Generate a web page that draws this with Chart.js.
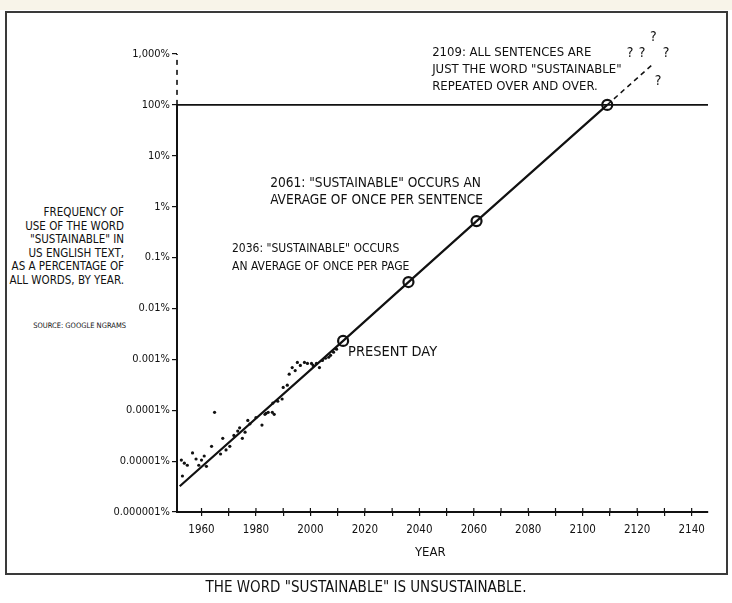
<!DOCTYPE html>
<html><head><meta charset="utf-8">
<script src="https://cdn.jsdelivr.net/npm/chart.js@4.4.1/dist/chart.umd.min.js"></script>
<style>
html,body{margin:0;padding:0;background:#fff;}
body{width:732px;height:603px;position:relative;overflow:hidden;font-family:'DejaVu Sans Condensed','DejaVu Sans',sans-serif;color:#111;}
#band{position:absolute;left:0;top:0;width:732px;height:10px;background:#f8f4e9;}
#frame{position:absolute;left:5px;top:11px;width:719px;height:560px;border:2px solid #3a3a3a;background:#fff;}
#wrap{position:absolute;left:0;top:0;width:732px;height:603px;}
#caption{position:absolute;left:0;width:732px;top:579px;text-align:center;font-size:15px;line-height:17px;}
#desc{position:absolute;right:608px;top:206px;text-align:right;font-size:11.5px;line-height:13.6px;white-space:nowrap;}
#source{position:absolute;right:606px;top:321px;text-align:right;font-size:7.5px;line-height:9px;white-space:nowrap;}
</style>
</head><body>
<div id="band"></div>
<div id="frame"></div>
<div id="desc">FREQUENCY OF<br>USE OF THE WORD<br>"SUSTAINABLE" IN<br>US ENGLISH TEXT,<br>AS A PERCENTAGE OF<br>ALL WORDS, BY YEAR.</div>
<div id="source">SOURCE: GOOGLE NGRAMS</div>
<div id="wrap"><canvas id="c" width="732" height="603" style="width:732px;height:603px"></canvas></div>
<div id="caption">THE WORD "SUSTAINABLE" IS UNSUSTAINABLE.</div>
<script>
// ---- data ----
const obsYears = [1950,1950.4,1952.6,1953.7,1954.8,1953,1956.7,1958,1960,1959,1961,1961.8,1963.7,1964.8,1967,1967.8,1969,1970.4,1971.9,1973.3,1974,1975,1976,1977,1977.8,1980,1982.2,1983.7,1983.3,1984.5,1986,1986.7,1986.2,1988,1989.6,1990,1991.5,1992.2,1993.3,1994.4,1995.2,1996.3,1997.8,1998.9,2000.4,2001,2002.2,2003.3,2004.4,2005.5,2006.7,2007.4,2008.5,2009.6];
const obsValues = [1.2e-5,7.9e-6,1.05e-5,9.1e-6,8.3e-6,5.1e-6,1.45e-5,1.1e-5,1.05e-5,8.3e-6,1.26e-5,7.9e-6,1.95e-5,9.1e-5,1.38e-5,2.8e-5,1.66e-5,1.95e-5,3.2e-5,3.9e-5,4.5e-5,2.8e-5,3.7e-5,6.3e-5,5.4e-5,7.2e-5,5.1e-5,8.7e-5,8.3e-5,9.1e-5,9.1e-5,8.3e-5,1.38e-4,1.5e-4,1.66e-4,2.8e-4,3.1e-4,5.1e-4,6.9e-4,6.0e-4,8.7e-4,7.6e-4,8.7e-4,8.3e-4,8.3e-4,7.6e-4,8.3e-4,6.9e-4,9.5e-4,1.05e-3,1.1e-3,1.2e-3,1.38e-3,1.58e-3];
const trendYears = [1952, 2012, 2036, 2061, 2109];
const trendValues = [3.2e-6, 0.0023, 0.033, 0.52, 100];
const milestoneYears = [2012, 2036, 2061, 2109];
const projYears = [2109, 2126];
const projValues = [100, 650];
const ceilingYears = [1951, 2146];
const ceilingValues = [100, 100];
const xTickValues = [1960,1970,1980,1990,2000,2010,2020,2030,2040,2050,2060,2070,2080,2090,2100,2110,2120,2130,2140];
const xLabelValues = [1960,1980,2000,2020,2040,2060,2080,2100,2120,2140];
const yTickValues = [1e-6,1e-5,1e-4,1e-3,1e-2,1e-1,1,10,100,1000];
const yTickLabels = ['0.000001%','0.00001%','0.0001%','0.001%','0.01%','0.1%','1%','10%','100%','1,000%'];
const qYears = [2117.4, 2121.8, 2125.9, 2130.6, 2127.7];
const qValues = [1050, 1050, 2140, 1050, 295];
const notes = [
  {year:2044.7, value:1050, gap:17, size:13, lines:['2109: ALL SENTENCES ARE','JUST THE WORD "SUSTAINABLE"','REPEATED OVER AND OVER.']},
  {year:1985.2, value:2.9, gap:17, size:13.6, lines:['2061: "SUSTAINABLE" OCCURS AN','AVERAGE OF ONCE PER SENTENCE']},
  {year:1971.2, value:0.147, gap:18, size:12, lines:['2036: "SUSTAINABLE" OCCURS','AN AVERAGE OF ONCE PER PAGE']},
  {year:2013.8, value:0.00139, gap:17, size:14.5, lines:['PRESENT DAY']}
];

const ink = '#111';
const FONT = "'DejaVu Sans Condensed','DejaVu Sans',sans-serif";
const pts = (xs, ys) => xs.map((v,i)=>({x:v, y:ys[i]}));

const overlay = {
  id:'overlay',
  afterDraw(chart){
    const {ctx, scales:{x, y}} = chart;
    ctx.save();
    const ax = x.getPixelForValue(x.min);
    ctx.strokeStyle = ink; ctx.lineWidth = 2;
    ctx.beginPath(); ctx.moveTo(ax, y.getPixelForValue(1e-6)+1); ctx.lineTo(ax, y.getPixelForValue(100)); ctx.stroke();
    ctx.setLineDash([5,5]); ctx.lineWidth = 1.6;
    ctx.beginPath(); ctx.moveTo(ax, y.getPixelForValue(100)); ctx.lineTo(ax, y.getPixelForValue(1000)); ctx.stroke();
    ctx.setLineDash([]);
    ctx.lineWidth = 1.2;
    const by = y.getPixelForValue(1e-6);
    xTickValues.forEach(v=>{ const px = x.getPixelForValue(v); ctx.beginPath(); ctx.moveTo(px, by-4); ctx.lineTo(px, by); ctx.stroke(); });
    ctx.fillStyle = ink; ctx.textBaseline = 'middle'; ctx.textAlign = 'left';
    notes.forEach(n=>{
      ctx.font = n.size + "px " + FONT;
      const px = x.getPixelForValue(n.year), py = y.getPixelForValue(n.value);
      n.lines.forEach((l,i)=>ctx.fillText(l, px, py + i*n.gap));
    });
    ctx.textAlign = 'center'; ctx.font = "14px " + FONT;
    qYears.forEach((v,i)=>ctx.fillText('?', x.getPixelForValue(v), y.getPixelForValue(qValues[i])));
    ctx.font = "13px " + FONT;
    ctx.fillText('YEAR', x.getPixelForValue(2044), 553);
    ctx.restore();
  }
};

new Chart(document.getElementById('c'), {
  type:'line',
  data:{datasets:[
    {data:pts(ceilingYears, ceilingValues), borderColor:ink, borderWidth:1.6, pointRadius:0, fill:false},
    {data:pts(obsYears, obsValues), showLine:false, pointRadius:1.6, pointBackgroundColor:ink, pointBorderWidth:0},
    {data:pts(trendYears, trendValues), borderColor:ink, borderWidth:2.2, fill:false,
     pointRadius:trendYears.map(v=>milestoneYears.includes(v)?5:0), pointBorderColor:ink, pointBorderWidth:2.2, pointBackgroundColor:'rgba(0,0,0,0)'},
    {data:pts(projYears, projValues), borderColor:ink, borderWidth:1.5, borderDash:[5,4], pointRadius:0, fill:false}
  ]},
  options:{
    responsive:false, animation:false, devicePixelRatio:1,
    layout:{padding:{left:0, right:24, top:54, bottom:51}},
    plugins:{legend:{display:false}, tooltip:{enabled:false}},
    scales:{
      x:{type:'linear', min:1951, max:2146,
        afterBuildTicks:s=>{ s.ticks = xTickValues.map(v=>({value:v})); },
        afterFit:s=>{ s.height = 40; },
        ticks:{color:ink, font:{family:FONT, size:11.5}, padding:7, maxRotation:0, autoSkip:false,
          callback:v=>xLabelValues.includes(v)?String(v):''},
        grid:{drawOnChartArea:false, tickLength:4, color:ink, lineWidth:1.2},
        border:{display:true, color:ink, width:2}
      },
      y:{type:'logarithmic', min:1e-6, max:1000,
        afterBuildTicks:s=>{ s.ticks = yTickValues.map(v=>({value:v})); },
        afterFit:s=>{ s.width = 177; },
        ticks:{color:ink, font:{family:FONT, size:11}, padding:2, autoSkip:false,
          callback:(v)=>{ const i = yTickValues.findIndex(t=>Math.abs(Math.log10(t)-Math.log10(v))<1e-6); return i>=0?yTickLabels[i]:''; }},
        grid:{drawOnChartArea:false, tickLength:5, color:ink, lineWidth:1.2},
        border:{display:false}
      }
    }
  },
  plugins:[overlay]
});
</script>
</body></html>
